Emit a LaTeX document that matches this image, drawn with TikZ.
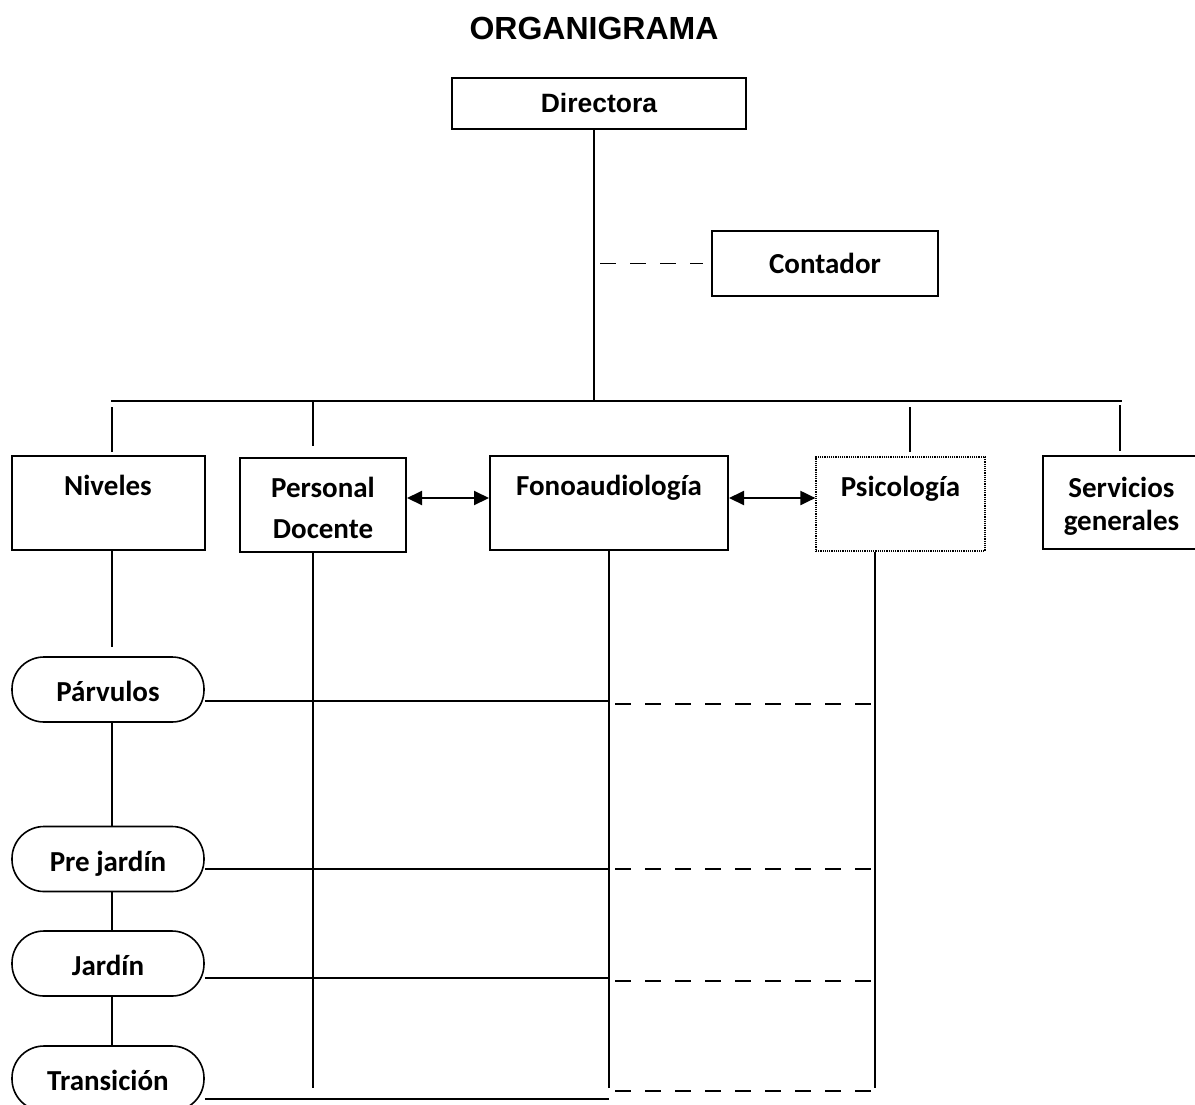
\documentclass[tikz,border=0pt]{standalone}
\usepackage{fontspec}
\setmainfont{Carlito}
\newfontfamily\arial{Liberation Sans}
\usepackage{tikz}
\usetikzlibrary{arrows.meta}

\tikzset{
	caja/.style={draw, line width=2pt, inner sep=0pt, align=center, font=\bfseries\fontsize{29}{41}\selectfont},
	cajaalta/.style={caja, text height=39pt, text depth=55pt},
	nivel/.style={draw, line width=1.6pt, rounded corners=32pt, inner sep=0pt, minimum width=192pt, minimum height=65pt, text height=25pt, text depth=1pt, font=\bfseries\fontsize{29}{35}\selectfont},
	linea/.style={line width=1.9pt},
	rayas/.style={line width=1.8pt, dash pattern=on 16pt off 14pt},
	flecha/.style={line width=2pt, >={Triangle[length=15pt,width=14pt]}, <->},
}

\begin{document}
\begin{tikzpicture}[x=1pt,y=-1pt]
	\useasboundingbox (0,0) rectangle (1195,1104);
	
	\coordinate (eje) at (112,0);
	\coordinate (pcol) at (313,0);
	\coordinate (scol) at (875,0);
	\coordinate (bus) at (594,401);
	\coordinate (busizq) at (111,401);
	\coordinate (busder) at (1122,401);
	\coordinate (ff) at (0,498);
	\coordinate (fondo) at (0,1088);
	
	\node (titulo) at (594,28) {\arial\bfseries\fontsize{32}{36}\selectfont ORGANIGRAMA};
	\node[caja, minimum width=294pt, minimum height=51pt, font=\arial\bfseries\fontsize{26.5}{30}\selectfont] (dir) at (599,103.5) {Directora};
	\node[caja, minimum width=226pt, minimum height=65pt] (cont) at (825,263.5) {Contador};
	
	\node[cajaalta, minimum width=193pt] (niv) at (108,503) {Niveles};
	\node[caja, minimum width=166pt, minimum height=94pt] (pers) at (323,505) {\rule{0pt}{26pt}Personal\\Docente};
	\node[cajaalta, minimum width=238pt] (fono) at (609,503) {Fonoaudiología};
	\node[cajaalta, line width=1.2pt, densely dotted, minimum width=169pt] (psico) at (900.5,504) {Psicología};
	\node[caja, minimum width=157pt, minimum height=93pt, font=\bfseries\fontsize{29}{33}\selectfont] (serv) at (1121.5,502.5) {\rule{0pt}{28pt}Servicios\\generales};
	
	\node[nivel] (parv) at (108,689.5) {Párvulos};
	\node[nivel] (prej) at (108,859) {Pre jardín};
	\node[nivel] (jard) at (108,963.5) {Jardín};
	\node[nivel] (tran) at (108,1078.5) {Transición};
	
	\draw[linea] (dir.south -| bus) - - (bus);
	\draw[linea] (busizq) - - (busder);
	\draw[rayas, shorten <=6pt, shorten >=8pt] (bus |- cont.west) - - (cont.west);
	\draw[linea, shorten <=6pt, shorten >=3pt] (busizq -| eje) - - (niv.north -| eje);
	\draw[linea, shorten >=11pt] (busizq -| pcol) - - (pers.north -| pcol);
	\draw[linea, shorten <=6pt, shorten >=4pt] (bus -| 910,0) - - (psico.north -| 910,0);
	\draw[linea, shorten <=4pt, shorten >=4pt] (busder -| 1120,0) - - (serv.north -| 1120,0);
	
	\draw[flecha] (pers.east |- ff) - - (fono.west |- ff);
	\draw[flecha] (fono.east |- ff) - - (psico.west |- ff);
	
	\draw[linea, shorten >=9pt] (niv.south -| eje) - - (parv.north -| eje);
	\draw[linea] (parv.south -| eje) - - (prej.north -| eje);
	\draw[linea] (prej.south -| eje) - - (jard.north -| eje);
	\draw[linea] (jard.south -| eje) - - (tran.north -| eje);
	\draw[linea] (pers.south -| pcol) - - (fondo -| pcol);
	\draw[linea] (fono.south) - - (fondo -| fono.south);
	\draw[linea] (psico.south -| scol) - - (fondo -| scol);
	
	\draw[linea] (parv.east |- 0,701) - - (fono.south |- 0,701);
	\draw[linea] (prej.east |- 0,869) - - (fono.south |- 0,869);
	\draw[linea] (jard.east |- 0,978) - - (fono.south |- 0,978);
	\draw[linea] (tran.east |- 0,1099) - - (fono.south |- 0,1099);
	\draw[rayas, shorten <=6pt, shorten >=2pt] (fono.south |- 0,704) - - (scol |- 0,704);
	\draw[rayas, shorten <=6pt, shorten >=2pt] (fono.south |- 0,869) - - (scol |- 0,869);
	\draw[rayas, shorten <=6pt, shorten >=2pt] (fono.south |- 0,981) - - (scol |- 0,981);
	\draw[rayas, shorten <=6pt, shorten >=2pt] (fono.south |- 0,1091) - - (scol |- 0,1091);
\end{tikzpicture}
\end{document}
